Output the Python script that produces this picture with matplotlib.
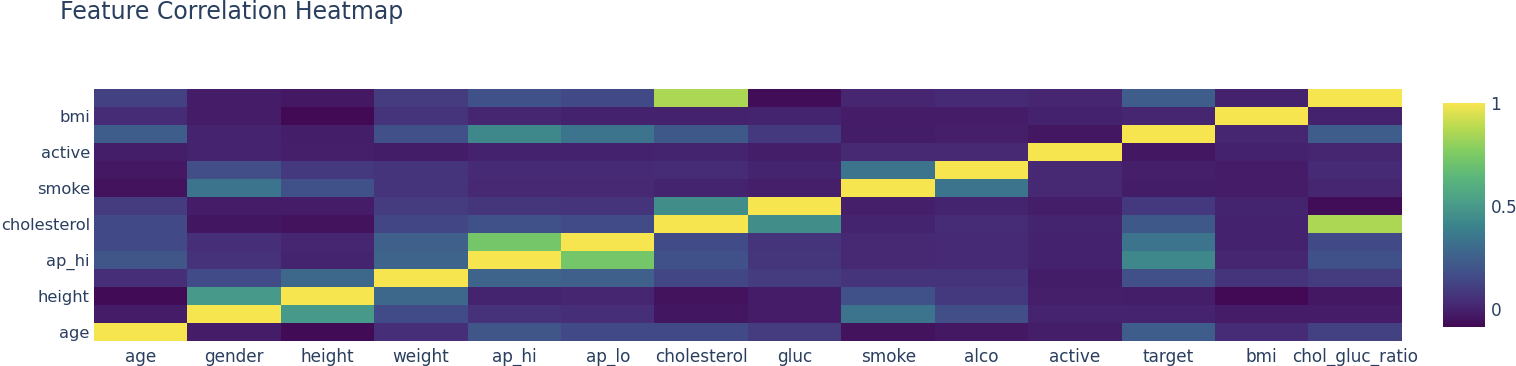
import numpy as np
import matplotlib
matplotlib.use("Agg")
import matplotlib.pyplot as plt
from matplotlib.colors import LinearSegmentedColormap

features = ["age", "gender", "height", "weight", "ap_hi", "ap_lo", "cholesterol",
            "gluc", "smoke", "alco", "active", "target", "bmi", "chol_gluc_ratio"]

corr_age    = [1.00, -0.02, -0.08, 0.05, 0.21, 0.15, 0.15, 0.10, -0.05, -0.03, -0.010, 0.24, 0.04, 0.12]
corr_gender = [-0.02, 1.00, 0.50, 0.16, 0.06, 0.05, -0.04, -0.02, 0.34, 0.17, 0.006, 0.008, -0.02, -0.02]
corr_height = [-0.08, 0.50, 1.00, 0.29, 0.01, 0.02, -0.05, -0.02, 0.19, 0.09, -0.007, -0.011, -0.085, -0.03]
corr_weight = [0.05, 0.16, 0.29, 1.00, 0.27, 0.25, 0.14, 0.10, 0.07, 0.07, -0.017, 0.18, 0.07, 0.10]
corr_ap_hi  = [0.21, 0.06, 0.01, 0.27, 1.00, 0.73, 0.19, 0.08, 0.025, 0.03, 0.000, 0.43, 0.02, 0.19]
corr_ap_lo  = [0.15, 0.05, 0.02, 0.25, 0.73, 1.00, 0.16, 0.07, 0.025, 0.03, 0.000, 0.34, 0.00, 0.15]
corr_chol   = [0.15, -0.04, -0.05, 0.14, 0.19, 0.16, 1.00, 0.45, 0.01, 0.035, 0.010, 0.22, 0.00, 0.86]
corr_gluc   = [0.10, -0.02, -0.02, 0.10, 0.08, 0.07, 0.45, 1.00, -0.005, 0.01, -0.010, 0.09, 0.01, -0.07]
corr_smoke  = [-0.05, 0.34, 0.19, 0.07, 0.025, 0.025, 0.01, -0.005, 1.00, 0.34, 0.025, -0.015, -0.02, 0.02]
corr_alco   = [-0.03, 0.17, 0.09, 0.07, 0.03, 0.03, 0.035, 0.01, 0.34, 1.00, 0.025, -0.007, -0.02, 0.03]
corr_active = [-0.010, 0.006, -0.007, -0.017, 0.0, 0.0, 0.01, -0.01, 0.025, 0.025, 1.00, -0.036, 0.00, 0.02]
corr_target = [0.24, 0.008, -0.011, 0.18, 0.43, 0.34, 0.22, 0.09, -0.015, -0.007, -0.036, 1.00, 0.02, 0.24]
corr_bmi    = [0.04, -0.02, -0.085, 0.07, 0.02, 0.00, 0.00, 0.01, -0.02, -0.02, 0.00, 0.02, 1.00, 0.00]
corr_cgr    = [0.12, -0.02, -0.03, 0.10, 0.19, 0.15, 0.86, -0.07, 0.02, 0.03, 0.02, 0.24, 0.00, 1.00]

rows = [corr_age, corr_gender, corr_height, corr_weight, corr_ap_hi, corr_ap_lo, corr_chol,
        corr_gluc, corr_smoke, corr_alco, corr_active, corr_target, corr_bmi, corr_cgr]
M = np.array(rows)

# viridis stops as they appear (slightly muted) in the reference rendering
muted_viridis = ['#420a55', '#472c77', '#424b88', '#3e668c', '#3a818c',
                 '#4a9d89', '#5ab67b', '#7ecb63', '#b6da52', '#f7e54f']
cmap = LinearSegmentedColormap.from_list("mviridis", muted_viridis)

TXT = "#2a3f5f"
W, H = 1516, 366
fig = plt.figure(figsize=(W / 100, H / 100), dpi=100)
ax = fig.add_axes([94 / W, 1 - 341 / H, 1308 / W, 252 / H])

im = ax.imshow(M, cmap=cmap, aspect="auto", origin="lower",
               vmin=M.min(), vmax=M.max(), interpolation="nearest")

ax.set_xticks(range(len(features)))
ax.set_xticklabels(features)
ax.set_yticks(range(0, len(features), 2))
ax.set_yticklabels(features[::2])
ax.tick_params(length=0, labelcolor=TXT)
ax.tick_params(axis="x", pad=5, labelsize=12.2)
ax.tick_params(axis="y", pad=3, labelsize=11.7)
for s in ax.spines.values():
    s.set_visible(False)

fig.text(60 / W, 1 - 12 / H, "Feature Correlation Heatmap", ha="left", va="center",
         fontsize=17, color=TXT)

cax = fig.add_axes([1443 / W, 1 - 327 / H, 42 / W, 224 / H])
cb = fig.colorbar(im, cax=cax, ticks=[0, 0.5, 1])
cb.outline.set_visible(False)
cb.ax.set_yticklabels(["0", "0.5", "1"])
cb.ax.tick_params(length=0, labelsize=12.2, labelcolor=TXT, pad=4)

fig.savefig("out.png", dpi=100, facecolor="white")
